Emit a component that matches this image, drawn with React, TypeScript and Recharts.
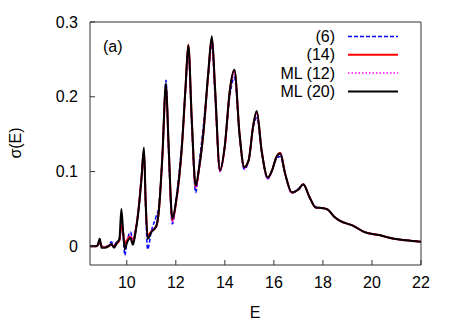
import { LineChart, Line, XAxis, YAxis } from "recharts";

// energy grid (shared by all four curves)
const energies = [
  8.5, 8.7, 8.8, 8.9, 8.97, 9.1, 9.25, 9.37, 9.48, 9.6,
  9.7, 9.78, 9.85, 9.92, 10.0, 10.15, 10.25, 10.35, 10.48, 10.6,
  10.7, 10.77, 10.85, 11.0, 11.2, 11.3, 11.45, 11.6, 11.7, 11.86,
  12.0, 12.25, 12.4, 12.51, 12.65, 12.81, 12.95, 13.12, 13.33, 13.47,
  13.6, 13.8, 14.0, 14.2, 14.39, 14.6, 14.79, 14.97, 15.15, 15.3,
  15.5, 15.75, 15.92, 16.1, 16.26, 16.46, 16.73, 17.0, 17.2, 17.45,
  17.7, 18.0, 18.2, 18.45, 18.7, 19.2, 19.7, 20.3, 20.9, 21.4,
  22.0,
];

const sigma6 = [
  0.0, 0.0, 0.001, 0.004, 0.001, -0.001, 0.001, 0.006, 0.002, 0.006,
  0.008, 0.025, 0.015, -0.012, 0.004, 0.019, 0.01, 0.022, 0.05, 0.095,
  0.125, 0.05, -0.004, 0.02, 0.04, 0.052, 0.12, 0.222, 0.13, 0.03,
  0.06, 0.14, 0.21, 0.262, 0.16, 0.072, 0.11, 0.16, 0.23, 0.27,
  0.2, 0.1, 0.135, 0.2, 0.226, 0.146, 0.103, 0.115, 0.158, 0.172,
  0.126, 0.09, 0.102, 0.117, 0.12, 0.096, 0.072, 0.077, 0.082, 0.066,
  0.053, 0.051, 0.049, 0.04, 0.034, 0.028, 0.019, 0.015, 0.01, 0.008,
  0.006,
];

const sigma14 = [
  0.0, 0.0, 0.001, 0.006, 0.0, -0.001, 0.0, 0.002, 0.0, 0.004,
  0.008, 0.03, 0.018, 0.003, 0.008, 0.013, 0.006, 0.019, 0.05, 0.092,
  0.128, 0.06, 0.014, 0.02, 0.026, 0.044, 0.118, 0.215, 0.14, 0.034,
  0.056, 0.133, 0.214, 0.27, 0.17, 0.079, 0.104, 0.15, 0.233, 0.279,
  0.21, 0.101, 0.134, 0.207, 0.235, 0.15, 0.106, 0.115, 0.16, 0.18,
  0.128, 0.092, 0.101, 0.119, 0.125, 0.097, 0.072, 0.076, 0.083, 0.066,
  0.052, 0.051, 0.049, 0.04, 0.034, 0.028, 0.019, 0.015, 0.01, 0.008,
  0.006,
];

const sigmaML12 = [
  0.0, 0.0, 0.001, 0.007, 0.0, -0.001, 0.0, 0.003, -0.001, 0.005,
  0.009, 0.035, 0.02, 0.001, 0.006, 0.013, 0.005, 0.018, 0.05, 0.092,
  0.126, 0.058, 0.012, 0.02, 0.028, 0.046, 0.12, 0.214, 0.138, 0.033,
  0.057, 0.134, 0.213, 0.266, 0.168, 0.078, 0.104, 0.15, 0.232, 0.277,
  0.209, 0.1, 0.133, 0.206, 0.233, 0.149, 0.104, 0.114, 0.158, 0.178,
  0.127, 0.09, 0.1, 0.118, 0.124, 0.096, 0.071, 0.076, 0.083, 0.066,
  0.052, 0.051, 0.049, 0.04, 0.034, 0.028, 0.019, 0.015, 0.01, 0.008,
  0.006,
];

const sigmaML20 = [
  0.0, 0.0, 0.001, 0.01, -0.002, -0.002, 0.0, 0.003, -0.002, 0.005,
  0.01, 0.05, 0.02, -0.004, 0.004, 0.011, 0.002, 0.017, 0.048, 0.09,
  0.132, 0.06, 0.01, 0.019, 0.027, 0.045, 0.12, 0.218, 0.14, 0.037,
  0.058, 0.135, 0.215, 0.269, 0.17, 0.081, 0.105, 0.15, 0.235, 0.281,
  0.212, 0.102, 0.135, 0.208, 0.236, 0.15, 0.106, 0.115, 0.16, 0.181,
  0.128, 0.092, 0.101, 0.119, 0.124, 0.097, 0.072, 0.076, 0.083, 0.066,
  0.052, 0.051, 0.049, 0.04, 0.034, 0.028, 0.019, 0.015, 0.01, 0.008,
  0.006,
];

const xTicks = [10, 12, 14, 16, 18, 20, 22];
const yTicks = [0, 0.1, 0.2, 0.3];

const series = [
  { key: "s6", name: "(6)", color: "#0000ff", dash: "4 2", width: 1.5 },
  { key: "s14", name: "(14)", color: "#ff0000", dash: undefined, width: 2 },
  { key: "ml12", name: "ML (12)", color: "#ff00ff", dash: "1.5 2", width: 1.5 },
  { key: "ml20", name: "ML (20)", color: "#000000", dash: undefined, width: 2 },
];

const data = energies.map((e, i) => ({
  E: e,
  s6: sigma6[i],
  s14: sigma14[i],
  ml12: sigmaML12[i],
  ml20: sigmaML20[i],
}));

const font = "'Liberation Sans', Arial, sans-serif";
const axisColor = "#333";

export default function App() {
  return (
    <div
      style={{
        position: "absolute",
        left: 0,
        top: 0,
        width: 463,
        height: 324,
        background: "#fff",
        fontFamily: font,
      }}
    >
      <LineChart
        width={463}
        height={324}
        data={data}
        margin={{ top: 12, right: 32, bottom: 29, left: 30 }}
      >
        <XAxis
          xAxisId="bottom"
          dataKey="E"
          type="number"
          domain={[8.5, 22]}
          allowDataOverflow
          ticks={xTicks}
          height={30}
          tickSize={-5}
          tickMargin={17}
          stroke={axisColor}
          tick={{ fill: "#000", fontSize: 16, fontFamily: font }}
        />
        <XAxis
          xAxisId="top"
          orientation="top"
          dataKey="E"
          type="number"
          domain={[8.5, 22]}
          allowDataOverflow
          ticks={xTicks}
          height={10}
          tickSize={-5}
          tick={false}
          stroke={axisColor}
        />
        <YAxis
          yAxisId="left"
          type="number"
          domain={[-0.025, 0.3]}
          allowDataOverflow
          ticks={yTicks}
          width={60}
          tickSize={-5}
          tickMargin={17}
          stroke={axisColor}
          tick={{ fill: "#000", fontSize: 16, fontFamily: font }}
          tickFormatter={(v: number) => `${v}`}
        />
        <YAxis
          yAxisId="right"
          orientation="right"
          type="number"
          domain={[-0.025, 0.3]}
          allowDataOverflow
          ticks={yTicks}
          width={10}
          tickSize={-5}
          tick={false}
          stroke={axisColor}
        />
        {series.map((s) => (
          <Line
            key={s.key}
            xAxisId="bottom"
            yAxisId="left"
            type="monotone"
            dataKey={s.key}
            stroke={s.color}
            strokeWidth={s.width}
            strokeDasharray={s.dash}
            dot={false}
            isAnimationActive={false}
          />
        ))}
      </LineChart>

      {/* labels + legend */}
      <svg
        width={463}
        height={324}
        style={{ position: "absolute", left: 0, top: 0, pointerEvents: "none" }}
        fontFamily={font}
        fontSize={16}
      >
        <text x={103} y={46} dominantBaseline="central">
          (a)
        </text>
        <text x={255} y={312} textAnchor="middle" dominantBaseline="central">
          E
        </text>
        <text
          x={15}
          y={143}
          textAnchor="middle"
          dominantBaseline="central"
          transform="rotate(-90 15 143)"
        >
          σ(E)
        </text>
        {series.map((s, i) => {
          const y = 36.5 + 18.3 * i;
          return (
            <g key={s.key}>
              <text x={335} y={y} textAnchor="end" dominantBaseline="central">
                {s.name}
              </text>
              <line
                x1={348}
                x2={398}
                y1={y}
                y2={y}
                stroke={s.color}
                strokeWidth={s.width}
                strokeDasharray={s.dash}
              />
            </g>
          );
        })}
      </svg>
    </div>
  );
}
